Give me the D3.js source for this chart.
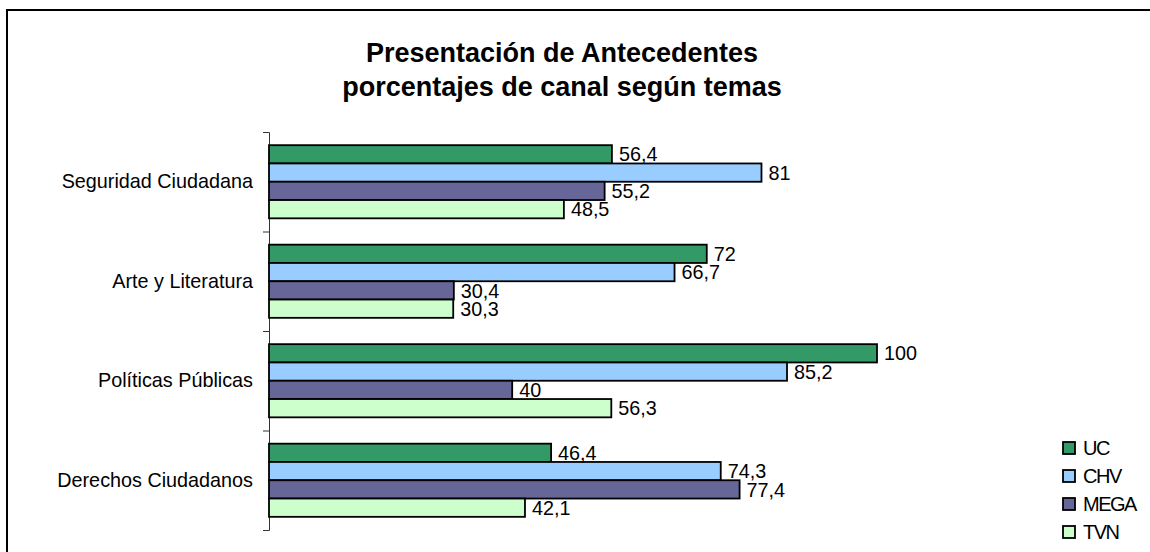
<!DOCTYPE html>
<html>
<head>
<meta charset="utf-8">
<script src="https://cdn.jsdelivr.net/npm/d3@7"></script>
<style>
  body { margin: 0; background: #fff; }
  svg { display: block; font-family: Arial, "Liberation Sans", sans-serif; }
</style>
</head>
<body>
<div id="chart"></div>
<script>
// Données du graphique
const categories = ["Seguridad Ciudadana", "Arte y Literatura", "Políticas Públicas", "Derechos Ciudadanos"];
const series = ["UC", "CHV", "MEGA", "TVN"];
const valuesUC = [56.4, 72, 100, 46.4];
const valuesCHV = [81, 66.7, 85.2, 74.3];
const valuesMEGA = [55.2, 30.4, 40, 77.4];
const valuesTVN = [48.5, 30.3, 56.3, 42.1];
const titleLines = ["Presentación de Antecedentes", "porcentajes de canal según temas"];

const colors = { UC: "#339966", CHV: "#99ccff", MEGA: "#666699", TVN: "#ccffcc" };

function drawChart(container) {
    const width = 1150;
    const height = 552;

    const svg = d3.select(container)
        .append("svg")
        .attr("width", width)
        .attr("height", height);

    // Cadre extérieur
    svg.append("rect")
        .attr("x", 7)
        .attr("y", 10)
        .attr("width", width)
        .attr("height", height)
        .attr("fill", "none")
        .attr("stroke", "#000")
        .attr("stroke-width", 2);

    // Titre
    svg.append("g")
        .selectAll("text")
        .data(titleLines)
        .enter()
        .append("text")
        .attr("x", 562)
        .attr("y", (d, i) => 62 + i * 34)
        .attr("text-anchor", "middle")
        .style("font-size", "27px")
        .style("font-weight", "bold")
        .text(d => d);

    // Tableau des lignes : une par catégorie
    const rows = categories.map((c, i) => ({
        category: c,
        values: [
            { key: "UC", value: valuesUC[i] },
            { key: "CHV", value: valuesCHV[i] },
            { key: "MEGA", value: valuesMEGA[i] },
            { key: "TVN", value: valuesTVN[i] }
        ]
    }));

    const x = d3.scaleLinear().domain([0, 100]).range([269, 877]);
    const y0 = d3.scaleBand().domain(categories).range([132, 530]).padding(0);
    const y1 = d3.scaleBand().domain(series).range([0, y0.bandwidth()])
        .paddingInner(0).paddingOuter(0.72);

    // Axe vertical avec étiquettes des catégories
    const axis = svg.append("g")
        .attr("transform", "translate(" + x(0) + ",0)")
        .call(d3.axisLeft(y0).tickSizeInner(0).tickSizeOuter(6).tickPadding(16));
    axis.select(".domain").attr("stroke", "#333");
    axis.selectAll("text")
        .style("font-size", "19.8px")
        .style("font-family", "Arial, 'Liberation Sans', sans-serif")
        .attr("fill", "#000");

    // Petites graduations entre les catégories
    axis.selectAll(".sep")
        .data(categories.slice(1))
        .enter()
        .append("line")
        .attr("class", "sep")
        .attr("x1", -6)
        .attr("x2", 0)
        .attr("y1", d => y0(d) + 0.5)
        .attr("y2", d => y0(d) + 0.5)
        .attr("stroke", "#333");

    // Barres
    const groups = svg.selectAll(".group")
        .data(rows)
        .enter()
        .append("g")
        .attr("class", "group")
        .attr("transform", d => "translate(0," + y0(d.category) + ")");

    groups.selectAll("rect")
        .data(d => d.values)
        .enter()
        .append("rect")
        .attr("x", x(0))
        .attr("y", d => y1(d.key))
        .attr("width", d => x(d.value) - x(0))
        .attr("height", y1.bandwidth())
        .attr("fill", d => colors[d.key])
        .attr("stroke", "#000")
        .attr("stroke-width", 1.8);

    // Valeurs à droite des barres
    groups.selectAll(".val")
        .data(d => d.values)
        .enter()
        .append("text")
        .attr("class", "val")
        .attr("x", d => x(d.value) + 7)
        .attr("y", d => y1(d.key) + y1.bandwidth() / 2)
        .attr("dy", "0.36em")
        .style("font-size", "19.8px")
        .text(d => String(d.value).replace(".", ","));

    // Légende
    const legend = svg.append("g")
        .selectAll(".legend")
        .data(series)
        .enter()
        .append("g")
        .attr("class", "legend")
        .attr("transform", (d, i) => "translate(1063," + (442 + i * 28) + ")");

    legend.append("rect")
        .attr("width", 12)
        .attr("height", 12)
        .attr("fill", d => colors[d])
        .attr("stroke", "#000")
        .attr("stroke-width", 1.8);

    legend.append("text")
        .attr("x", 20)
        .attr("y", 6)
        .attr("dy", "0.36em")
        .style("font-size", "20px")
        .style("letter-spacing", "-1.5px")
        .text(d => d);
}

drawChart(document.getElementById("chart"));
</script>
</body>
</html>
